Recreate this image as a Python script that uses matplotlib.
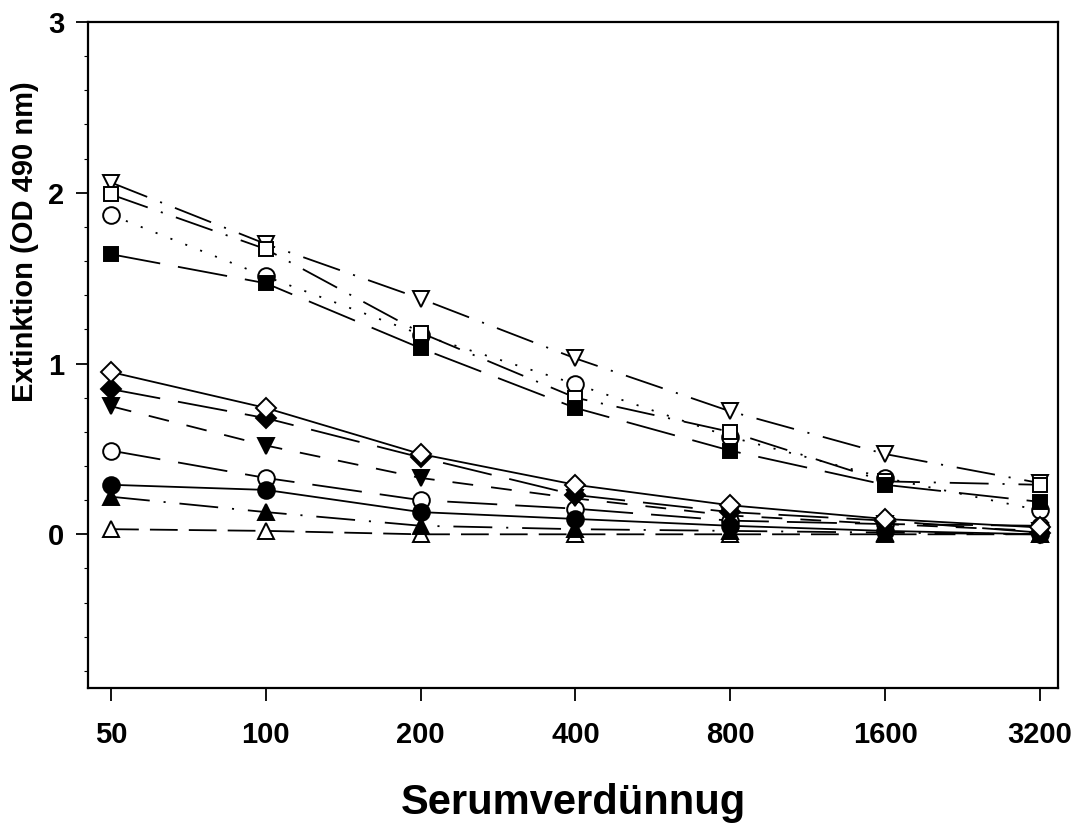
import numpy as np
import matplotlib
matplotlib.use("Agg")
import matplotlib.pyplot as plt
from matplotlib.ticker import MultipleLocator, FixedLocator, NullLocator

plt.rcParams['font.family'] = ['Liberation Sans', 'DejaVu Sans']
plt.rcParams['font.weight'] = 'bold'
plt.rcParams['lines.scale_dashes'] = False

# Serumverduennung
dilution = [50, 100, 200, 400, 800, 1600, 3200]
tick_labels = ["50", "100", "200", "400", "800", "1600", "3200"]

# Extinktion (OD 490 nm)
tri_down_open = [2.06, 1.70, 1.38, 1.03, 0.72, 0.47, 0.30]
circle_open_hi = [1.87, 1.51, 1.17, 0.88, 0.57, 0.33, 0.14]
square_open = [1.99, 1.67, 1.18, 0.80, 0.60, 0.31, 0.29]
square_filled = [1.64, 1.47, 1.09, 0.74, 0.49, 0.29, 0.19]
diamond_open = [0.95, 0.74, 0.47, 0.29, 0.17, 0.09, 0.04]
diamond_filled = [0.85, 0.68, 0.45, 0.23, 0.13, 0.08, 0.01]
tri_down_filled = [0.75, 0.52, 0.33, 0.21, 0.11, 0.06, 0.02]
circle_open_lo = [0.49, 0.33, 0.20, 0.15, 0.08, 0.06, 0.05]
circle_filled = [0.29, 0.26, 0.13, 0.09, 0.05, 0.02, 0.00]
tri_up_filled = [0.22, 0.13, 0.05, 0.03, 0.02, 0.01, 0.00]
tri_up_open = [0.03, 0.02, 0.00, 0.00, 0.00, 0.00, 0.00]

long_dash = (0, (36, 13))
med_dash = (0, (15, 13))
short_dash = (0, (20, 8))
dash_dot = (0, (28, 10, 1.5, 10))
dotted = (0, (1.5, 10))

# (werte, marker, gefuellt, linienstil, markergroesse)
reihen = [
    (tri_down_open, 'v', False, dash_dot, 12),
    (circle_open_hi, 'o', False, dotted, 12),
    (square_open, 's', False, dash_dot, 10),
    (square_filled, 's', True, long_dash, 10),
    (tri_up_open, '^', False, short_dash, 12),
    (tri_up_filled, '^', True, dash_dot, 12),
    (circle_open_lo, 'o', False, long_dash, 12),
    (circle_filled, 'o', True, '-', 12),
    (tri_down_filled, 'v', True, med_dash, 12),
    (diamond_filled, 'D', True, long_dash, 10),
    (diamond_open, 'D', False, '-', 10),
]

fig = plt.figure(figsize=(10.82, 8.25), dpi=100)
ax = fig.add_axes([88/1082, 1-688/825, 970/1082, 666/825])

for werte, m, gefuellt, ls, ms in reihen:
    ax.plot(dilution, werte, color='black', lw=1.3, linestyle=ls,
            marker=m, markersize=ms, markeredgewidth=1.4,
            markerfacecolor='black' if gefuellt else 'white',
            markeredgecolor='black')

ax.set_xscale('log', base=2)
ax.set_xlim(45.1, 3470)
ax.set_ylim(-0.9, 3)
ax.xaxis.set_major_locator(FixedLocator(dilution))
ax.xaxis.set_minor_locator(NullLocator())
ax.set_xticklabels(tick_labels)
ax.yaxis.set_major_locator(FixedLocator([0, 1, 2, 3]))
ax.yaxis.set_minor_locator(MultipleLocator(0.2))

ax.tick_params(axis='x', which='major', direction='out', length=9, width=1.3, pad=15, labelsize=21)
ax.tick_params(axis='y', which='major', direction='out', length=9, width=1.3, pad=8, labelsize=21)
ax.tick_params(axis='y', which='minor', direction='out', length=3, width=0.8)

for s in ax.spines.values():
    s.set_linewidth(1.6)

ax.set_xlabel("Serumverdünnug", fontsize=30, fontweight='bold')
ax.xaxis.set_label_coords(0.5, -0.143)
ax.set_ylabel("Extinktion (OD 490 nm)", fontsize=21, fontweight='bold')
ax.yaxis.set_label_coords(-0.05, 0.67)

fig.savefig("out.png", dpi=100)
